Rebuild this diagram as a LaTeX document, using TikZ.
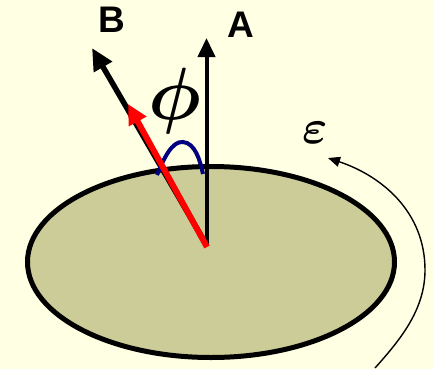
\documentclass[tikz,border=0pt]{standalone}
\usepackage{fontspec}
\usepackage{tikz}
\usetikzlibrary{arrows.meta}
\newfontfamily\labelfont{Liberation Sans}
\definecolor{paper}{RGB}{255,255,228}
\definecolor{disc}{RGB}{204,204,153}
\definecolor{arcblue}{RGB}{0,0,128}

\begin{document}
\begin{tikzpicture}[x=1pt, y=-1pt, line cap=butt,
    vec/.style={line width=4pt, -{Triangle[length=19pt, width=17pt]}},
    redvec/.style={red, line width=6pt, -{Triangle[length=20pt, width=19pt]}},
    emfarrow/.style={line width=1.4pt, -{Triangle[length=12pt, width=10pt]}},
    veclabel/.style={font=\labelfont\bfseries\fontsize{37}{40}\selectfont, inner sep=0pt},
    symlabel/.style={font=\boldmath, inner sep=0pt}]

        % ==========================================
        % 1. Background and loop (disc)
        % ==========================================
        \fill[paper] (0,0) rectangle (433,369);
        \useasboundingbox (0,0) rectangle (433,369);
        \draw[disc, fill=disc] (211,262) ellipse [x radius=183.5pt, y radius=95.5pt];
        \draw[line width=5pt] (211,262) ellipse [x radius=183.5pt, y radius=95.5pt];

        % ==========================================
        % 2. Vectors A and B
        % ==========================================
        \coordinate (o) at (206.5,245);
        \coordinate (a) at (206.5,38);
        \coordinate (b) at (92,48);
        \coordinate (r) at (128,104);

        \draw[vec] (o) -- (a);
        \draw[vec, line width=5.5pt, -{Triangle[length=22pt, width=20pt]}] (o) -- (b);

        \node[veclabel] (la) at (241,25) {A};
        \node[veclabel] (lb) at (112,20) {B};

        % angle between A and B
        \draw[arcblue, line width=4pt] (157,175) .. controls (164,158) and (172,141) .. (183,142)
            .. controls (195,143) and (200,160) .. (203,174);
        \node[symlabel, scale=7.4] (phi) at (175,101) {$\phi$};

        % red vector on top
        \draw[redvec] (207,247) -- (r);

        % ==========================================
        % 3. Induced emf
        % ==========================================
        \coordinate (e0) at (375,368);
        \coordinate (e1) at (425,270);
        \coordinate (e2) at (328,158);
        \draw[emfarrow] (e0) .. controls (400,340) and (425,310) .. (e1)
            .. controls (425,212) and (382,176) .. (e2);
        \node[symlabel, scale=4.8] (eps) at (315,133) {$\varepsilon$};

\end{tikzpicture}
\end{document}
